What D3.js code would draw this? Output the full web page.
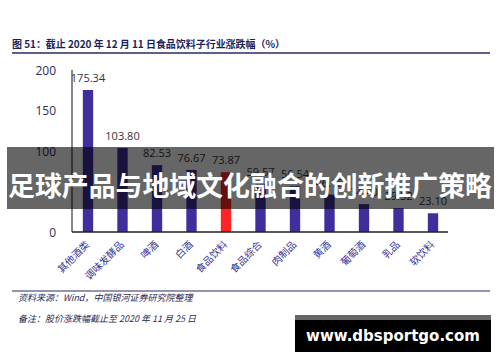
<!DOCTYPE html>
<html>
<head>
<meta charset="utf-8">
<script src="https://cdn.jsdelivr.net/npm/d3@7"></script>
<style>
  body { margin: 0; background: #fff; }
  svg { display: block; }
</style>
</head>
<body>
<svg width="500" height="362"></svg>
<script>
// 数据
var categories = ["其他酒类", "调味发酵品", "啤酒", "白酒", "食品饮料", "食品综合", "肉制品", "黄酒", "葡萄酒", "乳品", "软饮料"];
var values = [175.34, 103.80, 82.53, 76.67, 73.87, 59.57, 56.54, 46.18, 34.40, 29.52, 23.10];
var highlight = "食品饮料";
var yTicks = [0, 100, 150, 200];

var svg = d3.select("svg");

// 标题
svg.append("text")
    .attr("x", 12).attr("y", 48)
    .attr("textLength", 273)
    .attr("font-family", "'Noto Sans CJK SC', sans-serif")
    .attr("font-weight", 700)
    .attr("font-size", 10)
    .attr("fill", "#1e1e5a")
    .text("图 51：截止 2020 年 12 月 11 日食品饮料子行业涨跌幅（%）");

svg.append("line")
    .attr("x1", 12).attr("x2", 490).attr("y1", 53).attr("y2", 53)
    .attr("stroke", "#2a2a66").attr("stroke-width", 1.5);

// 比例尺
var x = d3.scaleBand()
    .domain(categories)
    .range([70.75, 450.25])
    .paddingInner(0.7)
    .paddingOuter(0.35);

var y = d3.scaleLinear()
    .domain([0, 200])
    .range([232, 70]);

// y轴刻度
svg.append("g").selectAll("text")
    .data(yTicks)
    .enter().append("text")
    .attr("x", 56)
    .attr("y", function(d) { return y(d); })
    .attr("text-anchor", "end")
    .attr("dominant-baseline", "central")
    .attr("font-family", "'Open Sans', sans-serif")
    .attr("font-size", 12)
    .attr("fill", "#2c2c5e")
    .text(function(d) { return d; });

svg.append("line")
    .attr("x1", 72).attr("x2", 72)
    .attr("y1", y(200)).attr("y2", y(0))
    .attr("stroke", "#111").attr("stroke-width", 1);

// 柱子
svg.append("g").selectAll("rect")
    .data(values)
    .enter().append("rect")
    .attr("x", function(d, i) { return x(categories[i]); })
    .attr("width", x.bandwidth())
    .attr("y", function(d) { return y(d); })
    .attr("height", function(d) { return y(0) - y(d); })
    .attr("fill", function(d, i) { return categories[i] === highlight ? "#ff2424" : "#3f2f9c"; });

// 数值标签
svg.append("g").selectAll("text")
    .data(values)
    .enter().append("text")
    .attr("x", function(d, i) { return x(categories[i]) + x.bandwidth() / 2; })
    .attr("y", function(d) { return y(d) - 8; })
    .attr("text-anchor", "middle")
    .attr("font-family", "'Open Sans', sans-serif")
    .attr("font-size", 11)
    .attr("fill", "#333")
    .text(function(d) { return d.toFixed(2); });

// x轴
svg.append("line")
    .attr("x1", 72).attr("x2", 448)
    .attr("y1", y(0)).attr("y2", y(0))
    .attr("stroke", "#222").attr("stroke-width", 1.5);

svg.append("g").selectAll("text")
    .data(categories)
    .enter().append("text")
    .attr("transform", function(d) {
        return "translate(" + (x(d) + x.bandwidth() / 2 - 1) + ",242) rotate(-45)";
    })
    .attr("text-anchor", "end")
    .attr("dominant-baseline", "central")
    .attr("font-family", "'Noto Sans CJK SC', sans-serif")
    .attr("font-size", 10)
    .attr("fill", "#34349a")
    .text(function(d) { return d; });

// 底部线与注释
svg.append("line")
    .attr("x1", 12).attr("x2", 490).attr("y1", 291).attr("y2", 291)
    .attr("stroke", "#2a2a66").attr("stroke-width", 1.2);

var notes = ["资料来源：Wind，中国银河证券研究院整理", "备注：股价涨跌幅截止至 2020 年 11 月 25 日"];
svg.append("g").selectAll("text")
    .data(notes)
    .enter().append("text")
    .attr("x", 18)
    .attr("y", function(d, i) { return 301 + i * 21; })
    .attr("font-family", "'Noto Sans CJK SC', sans-serif")
    .attr("font-style", "italic")
    .attr("font-size", 9)
    .attr("fill", "#2a2a55")
    .text(function(d) { return d; });

// 横幅
svg.append("rect")
    .attr("x", 7).attr("y", 147).attr("width", 487).attr("height", 62)
    .attr("fill", "rgba(0,0,0,0.6)");

svg.append("text")
    .attr("x", 8).attr("y", 184)
    .attr("textLength", 484)
    .attr("lengthAdjust", "spacingAndGlyphs")
    .attr("dominant-baseline", "central")
    .attr("font-family", "'Noto Sans CJK SC', sans-serif")
    .attr("font-weight", 700)
    .attr("font-size", 27)
    .attr("fill", "#fff")
    .text("足球产品与地域文化融合的创新推广策略");

// 网址水印
svg.append("rect")
    .attr("x", 295).attr("y", 315).attr("width", 196).attr("height", 5)
    .attr("fill", "#666");
svg.append("rect")
    .attr("x", 295).attr("y", 320).attr("width", 196).attr("height", 32)
    .attr("fill", "#000");
svg.append("text")
    .attr("x", 393).attr("y", 336)
    .attr("text-anchor", "middle")
    .attr("dominant-baseline", "central")
    .attr("font-family", "'DejaVu Sans', sans-serif")
    .attr("font-weight", 700)
    .attr("font-size", 15)
    .attr("fill", "#fff")
    .text("www.dbsportgo.com");
</script>
</body>
</html>
